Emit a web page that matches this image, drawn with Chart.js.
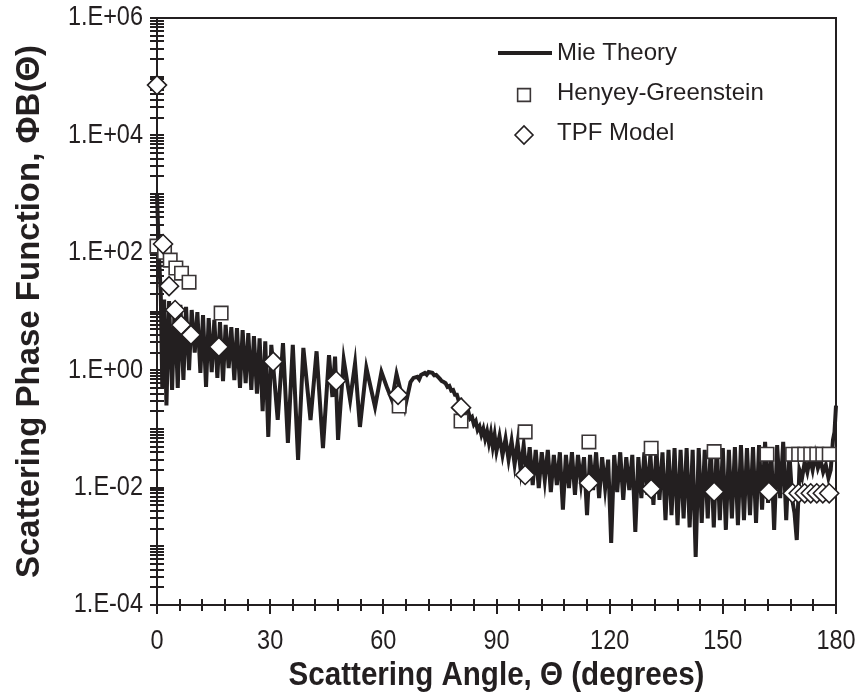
<!DOCTYPE html>
<html>
<head>
<meta charset="utf-8">
<script src="https://cdn.jsdelivr.net/npm/chart.js@4.4.1/dist/chart.umd.min.js"></script>
<style>
  html, body { margin: 0; padding: 0; background: #fff; }
  #wrap { width: 856px; height: 700px; }
</style>
</head>
<body>
<div id="wrap"><canvas id="phaseChart" width="856" height="700"></canvas></div>
<script>
const seriesNames = ['Mie Theory', 'Henyey-Greenstein', 'TPF Model'];
const xTitle = 'Scattering Angle, Θ (degrees)';
const yTitle = 'Scattering Phase Function, ΦB(Θ)';

// Mie theory curve (angle in degrees, phase function)
const mieAngle = [
  0.0, 0.5, 1.0, 1.4, 1.9, 2.5, 3.2, 4.0, 4.7, 5.5,
  6.2, 7.0, 7.7, 8.5, 9.2, 10.0, 10.7, 11.5, 12.2, 13.0,
  13.7, 14.5, 15.2, 16.0, 16.7, 17.5, 18.2, 19.0, 19.7, 20.5,
  21.2, 22.0, 22.7, 23.5, 24.2, 25.0, 25.7, 26.5, 27.2, 28.0,
  28.7, 29.5,
  30.3, 31.2, 32.0, 33.4, 34.7, 36.0, 37.4, 38.8, 40.7, 42.3,
  44.0, 45.6, 46.5, 47.2, 48.0, 49.5, 51.2, 52.5, 53.8, 55.5,
  57.8, 59.5, 61.0, 62.3, 63.5, 65.7, 67.2,
  68, 69, 69.5, 70, 71, 71.5, 72, 73, 73.5, 74,
  75, 75.5, 76, 76.5, 77, 77.5, 78, 78.5, 79, 79.5,
  80, 80.5, 81, 81.5, 82, 82.5, 83, 83.5, 84, 84.5,
  85, 85.5, 86, 86.5, 87, 87.5, 88, 88.5, 89, 89.5,
  90, 90.8, 91.6, 92.4, 93.2, 94.0, 94.8, 95.6, 96.4, 97.2,
  98.0, 98.8, 99.6,
  100.4, 101.2, 102.0, 102.8, 103.6, 104.4, 105.2, 106.0, 106.8, 107.6,
  108.4, 109.2, 110.0, 110.8, 111.6, 112.4, 113.2, 114.0, 114.8, 115.6,
  116.4, 117.2, 118.0, 118.8, 119.6, 120.4, 121.2, 122.0, 122.8, 123.6,
  124.4, 125.2, 126.0, 126.8, 127.6, 128.4, 129.2, 130.0, 130.8, 131.6,
  132.4, 133.2, 134.0, 134.8, 135.6, 136.4, 137.2, 138.0, 138.8, 139.6,
  140.4, 141.2, 142.0, 142.8, 143.6, 144.4, 145.2, 146.0, 146.8, 147.6,
  148.4, 149.2, 150.0, 150.8, 151.6, 152.4, 153.2, 154.0, 154.8, 155.6,
  156.4, 157.2, 158.0, 158.8, 159.6, 160.4, 161.2, 162.0, 162.8, 163.6,
  164.4, 165.2, 166.0, 166.8, 167.6, 168.4, 169.0, 169.6, 170.3, 171.0,
  171.7, 172.4, 173.1, 173.8, 174.5, 175.2, 175.9, 176.6, 177.3, 178.0,
  178.6, 179.2, 179.6, 180.0
];
const mieValue = [
  1000, 100, 20, 0.5, 16, 0.25, 15, 0.46, 14, 0.5,
  13, 0.68, 12, 1.0, 10.6, 2.0, 9.8, 0.9, 8.7, 0.52,
  7.75, 0.93, 7.2, 0.74, 6.6, 0.65, 5.9, 1.09, 5.4, 0.68,
  5.2, 0.5, 4.8, 0.6, 4.3, 0.46, 3.8, 0.4, 3.5, 0.2,
  3.1, 0.073,
  2.7, 0.6, 0.142, 2.9, 0.0575, 2.7, 0.0295, 2.4, 0.142, 2.1,
  0.047, 1.8, 0.35, 1.7, 0.065, 1.5, 0.31, 1.3, 0.108, 1.1,
  0.236, 0.93, 0.5, 0.31, 0.86, 0.227, 0.63,
  0.74, 0.77, 0.70, 0.83, 0.90, 0.84, 0.93, 0.90, 0.82, 0.83,
  0.71, 0.65, 0.63, 0.60, 0.52, 0.54, 0.45, 0.46, 0.38, 0.38,
  0.30, 0.31, 0.23, 0.245, 0.18, 0.20, 0.15, 0.16, 0.12, 0.135,
  0.096, 0.11, 0.080, 0.10, 0.068, 0.09, 0.058, 0.085, 0.050, 0.078,
  0.042, 0.075, 0.036, 0.068, 0.030, 0.062, 0.025, 0.058, 0.020, 0.053,
  0.015, 0.049, 0.011,
  0.044, 0.0098, 0.040, 0.0135, 0.044, 0.0084, 0.036, 0.011, 0.040, 0.0042,
  0.036, 0.0098, 0.040, 0.0075, 0.036, 0.012, 0.033, 0.0034, 0.036, 0.0091,
  0.040, 0.0066, 0.033, 0.0098, 0.030, 0.00114, 0.036, 0.0084, 0.040, 0.0062,
  0.033, 0.0091, 0.036, 0.00175, 0.033, 0.0066, 0.040, 0.0075, 0.036, 0.0051,
  0.044, 0.0062, 0.040, 0.0028, 0.044, 0.0034, 0.047, 0.0023, 0.044, 0.0030,
  0.047, 0.0021, 0.044, 0.00066, 0.047, 0.0025, 0.044, 0.0030, 0.049, 0.0021,
  0.053, 0.0028, 0.047, 0.0019, 0.044, 0.0030, 0.049, 0.0023, 0.053, 0.0028,
  0.047, 0.0034, 0.049, 0.0025, 0.053, 0.0042, 0.060, 0.0055, 0.047, 0.0019,
  0.053, 0.0066, 0.060, 0.0028, 0.044, 0.0062, 0.0037, 0.00128, 0.020, 0.0146,
  0.0273, 0.0185, 0.032, 0.020, 0.036, 0.0216, 0.0295, 0.0185, 0.0243, 0.0146,
  0.020, 0.065, 0.088, 0.25
];

// Henyey-Greenstein model points
const hgAngle = [0, 2.0, 3.5, 5.0, 6.5, 8.5, 17.0, 64.2, 80.6, 97.6, 114.5, 131.0, 147.7, 161.7,
  168.5, 170.1, 171.7, 173.3, 174.9, 176.5, 178.2];
const hgValue = [130, 102, 75, 55, 45, 31.6, 9.4, 0.245, 0.136, 0.089, 0.060, 0.047, 0.041, 0.037,
  0.037, 0.037, 0.037, 0.037, 0.037, 0.037, 0.037];

// TPF model points
const tpfAngle = [0, 1.6, 3.2, 4.8, 6.4, 9.0, 16.4, 30.8, 47.5, 63.9, 80.6, 97.6, 114.5, 131.0, 147.7, 162.2,
  168.5, 170.1, 171.7, 173.3, 174.9, 176.5, 178.2];
const tpfValue = [72000, 141, 27, 10.6, 5.9, 4.0, 2.5, 1.4, 0.66, 0.38, 0.23, 0.0164, 0.012, 0.0095, 0.0085, 0.0085,
  0.008, 0.008, 0.008, 0.008, 0.008, 0.008, 0.008];

const xTickValues = [0, 30, 60, 90, 120, 150, 180];
const xTickLabels = ['0', '30', '60', '90', '120', '150', '180'];
const yTickValues = [1e-4, 1e-2, 1, 1e2, 1e4, 1e6];
const yTickLabels = ['1.E-04', '1.E-02', '1.E+00', '1.E+02', '1.E+04', '1.E+06'];

const ink = '#231f20';
const plain = "'Liberation Sans', Arial, sans-serif";

function pairs(xs, ys) {
  return xs.map((a, i) => ({ x: a, y: ys[i] }));
}

// the reference text is tall and narrow, so squeeze it sideways
function squeezedText(ctx, text, x, y, align) {
  ctx.save();
  ctx.translate(x, y);
  ctx.scale(0.87, 1);
  ctx.textAlign = align;
  ctx.textBaseline = 'middle';
  ctx.fillText(text, 0, 0);
  ctx.restore();
}

// box frame plus crossing tick marks (minor ticks every 6 deg, log minor ticks on y)
const frameTicks = {
  id: 'frameTicks',
  beforeDatasetsDraw(chart) {
    const { ctx, chartArea: a, scales } = chart;
    const xs = scales.x, ys = scales.y;
    ctx.save();
    ctx.strokeStyle = ink;
    ctx.lineWidth = 2;
    ctx.strokeRect(a.left, a.top, a.right - a.left, a.bottom - a.top);
    ctx.beginPath();
    for (let v = 0; v <= 180; v += 6) {
      const px = Math.round(xs.getPixelForValue(v));
      const major = v % 30 === 0;
      ctx.moveTo(px, a.bottom - 6);
      ctx.lineTo(px, a.bottom + (major ? 9 : 6));
    }
    for (let e = -4; e < 6; e++) {
      for (let k = 1; k < 10; k++) {
        const py = Math.round(ys.getPixelForValue(k * Math.pow(10, e)));
        ctx.moveTo(a.left - 7, py);
        ctx.lineTo(a.left + 7, py);
      }
    }
    const topY = Math.round(ys.getPixelForValue(1e6));
    ctx.moveTo(a.left - 7, topY);
    ctx.lineTo(a.left + 7, topY);
    ctx.stroke();
    ctx.restore();
  }
};

// tick labels and the x title, placed through the scales
const axisText = {
  id: 'axisText',
  afterDraw(chart) {
    const { ctx, chartArea: a, scales } = chart;
    ctx.save();
    ctx.fillStyle = ink;
    ctx.font = '27px ' + plain;
    xTickValues.forEach((v, i) => {
      squeezedText(ctx, xTickLabels[i], scales.x.getPixelForValue(v), a.bottom + 37, 'center');
    });
    yTickValues.forEach((v, i) => {
      squeezedText(ctx, yTickLabels[i], a.left - 14, scales.y.getPixelForValue(v), 'right');
    });
    ctx.font = 'bold 34px ' + plain;
    squeezedText(ctx, xTitle, (a.left + a.right) / 2, a.bottom + 71, 'center');
    ctx.restore();
  }
};

// legend drawn inside the plot, Excel style
const innerLegend = {
  id: 'innerLegend',
  afterDraw(chart) {
    const { ctx, chartArea: a } = chart;
    const left = a.left + 341;
    ctx.save();
    chart.data.datasets.forEach((ds, i) => {
      const y = a.top + 35 + i * 40;
      ctx.strokeStyle = ds.borderColor;
      ctx.lineWidth = ds.borderWidth;
      if (ds.showLine !== false) {
        ctx.beginPath();
        ctx.moveTo(left, y);
        ctx.lineTo(left + 54, y);
        ctx.stroke();
      } else {
        ctx.fillStyle = ds.backgroundColor;
        Chart.helpers.drawPoint(ctx, {
          pointStyle: ds.pointStyle, radius: 9, rotation: 0, borderWidth: ds.borderWidth
        }, left + 26, y + 2);
      }
      ctx.fillStyle = ink;
      ctx.font = '24px ' + plain;
      ctx.textBaseline = 'middle';
      ctx.fillText(ds.label, left + 59, y);
    });
    ctx.restore();
  }
};

new Chart(document.getElementById('phaseChart'), {
  type: 'scatter',
  data: {
    datasets: [
      {
        label: seriesNames[0],
        data: pairs(mieAngle, mieValue),
        showLine: true,
        borderColor: ink,
        borderWidth: 4,
        pointRadius: 0,
        tension: 0,
        order: 3
      },
      {
        label: seriesNames[1],
        data: pairs(hgAngle, hgValue),
        showLine: false,
        pointStyle: 'rect',
        pointRadius: 9.5,
        borderColor: '#3a3536',
        backgroundColor: '#ffffff',
        borderWidth: 1.6,
        order: 2
      },
      {
        label: seriesNames[2],
        data: pairs(tpfAngle, tpfValue),
        showLine: false,
        pointStyle: 'rectRot',
        pointRadius: 9.5,
        borderColor: ink,
        backgroundColor: '#ffffff',
        borderWidth: 1.6,
        order: 1
      }
    ]
  },
  options: {
    responsive: false,
    animation: false,
    clip: false,
    layout: { padding: { top: 18, right: 20, left: 0, bottom: 0 } },
    plugins: {
      legend: { display: false },
      tooltip: { enabled: false }
    },
    scales: {
      x: {
        type: 'linear',
        min: 0,
        max: 180,
        afterFit: (scale) => { scale.height = 95; },
        grid: { display: false, drawTicks: false },
        border: { display: false },
        ticks: { display: false }
      },
      y: {
        type: 'logarithmic',
        min: 1e-4,
        max: 1e6,
        afterFit: (scale) => { scale.width = 157; },
        grid: { display: false, drawTicks: false },
        border: { display: false },
        ticks: { display: false },
        title: {
          display: true,
          text: yTitle,
          color: ink,
          font: { family: plain, size: 33, weight: 'bold' },
          padding: { top: 10, bottom: 0 }
        }
      }
    }
  },
  plugins: [frameTicks, axisText, innerLegend]
});
</script>
</body>
</html>
